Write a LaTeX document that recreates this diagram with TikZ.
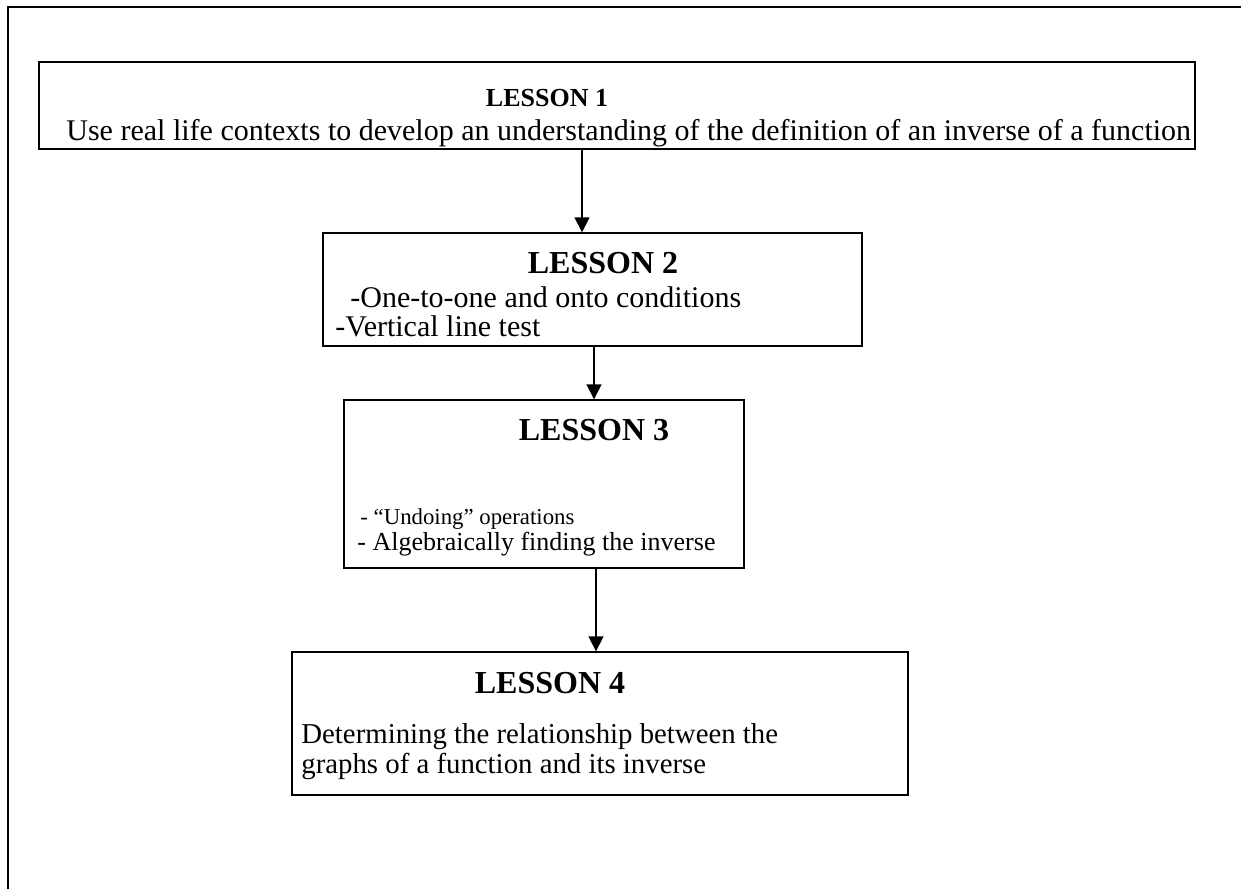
\documentclass[tikz,border=0pt]{standalone}
\usepackage{fontspec}
\setmainfont{Liberation Serif}
\usetikzlibrary{positioning,arrows.meta}

\begin{document}
\begin{tikzpicture}[x=0.5pt, y=-0.5pt,
        lesson/.style={draw, line width=0.7pt, inner sep=0pt},
        title/.style={font=\fontsize{16}{19}\selectfont\bfseries, inner sep=0pt},
        item/.style={font=\fontsize{15}{18}\selectfont, anchor=base west, inner sep=0pt},
        flow/.style={-{Triangle[length=7.5pt, width=7.5pt]}, line width=0.8pt}
      ]
      \useasboundingbox (0,0) rectangle (1241,889);

      % Page frame
      \draw[line width=1pt] (8,889) -- (8,7) -- (1241,7);

      % Lesson boxes
      \node[lesson, minimum width=578pt, minimum height=43.5pt] (l1) at (617,105.5) {};
      \node[lesson, minimum width=269.5pt, minimum height=56.5pt] (l2) at (592.5,289.5) {};
      \node[lesson, minimum width=200pt, minimum height=84pt] (l3) at (544,484) {};
      \node[lesson, minimum width=308pt, minimum height=71.5pt] (l4) at (600,723.5) {};

      % Lesson 1
      \node[title, font=\fontsize{13}{16}\selectfont\bfseries] (t1) at (547,98) {LESSON 1};
      \node[item] (u1) at (66,140) {Use real life contexts to develop an understanding of the definition of an inverse of a function};

      % Lesson 2
      \node[title] (t2) at (603,263) {LESSON 2};
      \node[item] (u2a) at (350,307) {-One-to-one and onto conditions};
      \node[item] (u2b) at (335,336) {-Vertical line test};

      % Lesson 3
      \node[title] (t3) at (594,430) {LESSON 3};
      \node[item, font=\fontsize{11.4}{14}\selectfont] (u3a) at (360,524) {- “Undoing” operations};
      \node[item, font=\fontsize{13}{16}\selectfont] (u3b) at (357,550) {- Algebraically finding the inverse};

      % Lesson 4
      \node[title] (t4) at (550,683) {LESSON 4};
      \node[item, font=\fontsize{14.4}{17}\selectfont] (u4a) at (301,743) {Determining the relationship between the};
      \node[item, font=\fontsize{14.4}{17}\selectfont] (u4b) at (301,773) {graphs of a function and its inverse};

      % Arrows between lessons
      \coordinate (a1) at (582,0);
      \coordinate (a2) at (594,0);
      \coordinate (a3) at (596,0);
      \draw[flow] (l1.south -| a1) -- (l2.north -| a1);
      \draw[flow] (l2.south -| a2) -- (l3.north -| a2);
      \draw[flow] (l3.south -| a3) -- (l4.north -| a3);

    \end{tikzpicture}
\end{document}
